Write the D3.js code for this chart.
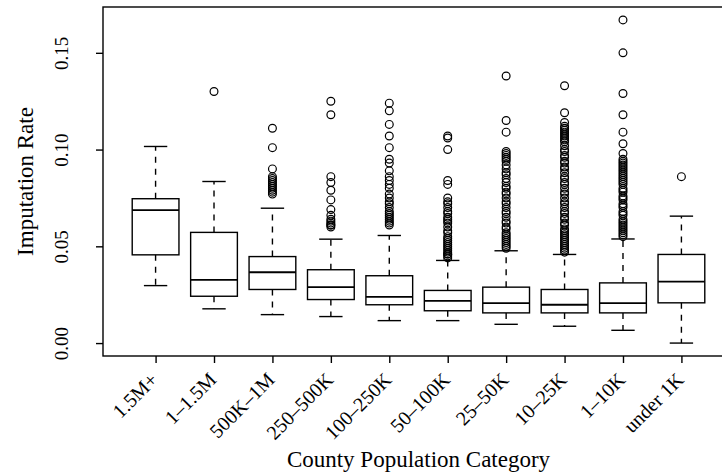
<!DOCTYPE html>
<html>
<head>
<meta charset="utf-8">
<script src="https://cdn.jsdelivr.net/npm/d3@7"></script>
<style>
  body { margin: 0; background: #fff; }
  text { font-family: "Liberation Serif", "Times New Roman", serif; fill: #000; }
</style>
</head>
<body>
<div id="chart-area"></div>
<script>
const categories = ["1.5M+", "1–1.5M", "500K–1M", "250–500K", "100–250K", "50–100K", "25–50K", "10–25K", "1–10K", "under 1K"]
const whiskerLow = [0.0297, 0.0177, 0.0147, 0.0137, 0.0116, 0.0116, 0.0097, 0.0087, 0.0066, 0.0000]
const q1 = [0.0456, 0.0242, 0.0277, 0.0225, 0.0198, 0.0167, 0.0156, 0.0156, 0.0156, 0.0208]
const median = [0.0687, 0.0327, 0.0366, 0.0289, 0.0239, 0.0218, 0.0206, 0.0198, 0.0206, 0.0318]
const q3 = [0.0746, 0.0572, 0.0447, 0.0379, 0.0348, 0.0272, 0.0289, 0.0277, 0.0311, 0.0458]
const whiskerHigh = [0.1016, 0.0835, 0.0697, 0.0537, 0.0556, 0.0427, 0.0477, 0.0458, 0.0538, 0.0656]
const outliers = [
  [],
  [0.130],
  [0.111, 0.101, 0.090, 0.086, 0.085, 0.084, 0.083, 0.082, 0.081, 0.080, 0.079, 0.078, 0.077],
  [0.125, 0.118, 0.086, 0.083, 0.079, 0.074, 0.069, 0.066, 0.064, 0.063, 0.062, 0.061, 0.061, 0.060],
  [0.124, 0.120, 0.113, 0.107, 0.101, 0.095, 0.093, 0.089, 0.086, 0.084, 0.082, 0.080, 0.077, 0.075,
   0.073, 0.072, 0.070, 0.068, 0.067, 0.066, 0.065, 0.064, 0.063, 0.062, 0.061],
  [0.107, 0.106, 0.100, 0.084, 0.082, 0.075, 0.073, 0.072, 0.070, 0.068, 0.067, 0.065, 0.064, 0.063,
   0.062, 0.060, 0.058, 0.057, 0.055, 0.054, 0.053, 0.052, 0.051, 0.050, 0.049, 0.048, 0.047, 0.046,
   0.046, 0.045, 0.044],
  [0.138, 0.115, 0.109, 0.099, 0.098, 0.097, 0.096, 0.095, 0.094, 0.092, 0.090, 0.088, 0.087, 0.085,
   0.083, 0.081, 0.080, 0.078, 0.077, 0.075, 0.073, 0.072, 0.070, 0.068, 0.067, 0.065, 0.063, 0.062,
   0.060, 0.059, 0.057, 0.056, 0.055, 0.054, 0.053, 0.052, 0.051, 0.050, 0.049],
  [0.133, 0.119, 0.114, 0.112, 0.111, 0.110, 0.109, 0.108, 0.107, 0.106, 0.105, 0.104, 0.102, 0.100,
   0.099, 0.097, 0.096, 0.094, 0.093, 0.091, 0.090, 0.088, 0.086, 0.085, 0.083, 0.082, 0.080, 0.078,
   0.077, 0.075, 0.073, 0.072, 0.070, 0.068, 0.067, 0.065, 0.064, 0.062, 0.061, 0.059, 0.058, 0.057,
   0.056, 0.055, 0.054, 0.053, 0.052, 0.051, 0.050, 0.049, 0.048, 0.047],
  [0.167, 0.150, 0.129, 0.118, 0.109, 0.103, 0.098, 0.095, 0.094, 0.093, 0.092, 0.091, 0.090, 0.089,
   0.088, 0.087, 0.086, 0.085, 0.084, 0.083, 0.082, 0.080, 0.079, 0.078, 0.076, 0.075, 0.074, 0.072,
   0.071, 0.070, 0.068, 0.067, 0.066, 0.064, 0.063, 0.062, 0.061, 0.060, 0.059, 0.058, 0.057, 0.056,
   0.055],
  [0.086]
]
const yTicks = [0, 0.05, 0.10, 0.15]

const WIDTH = 722, HEIGHT = 474
const PLOT = { LEFT: 103, RIGHT: 734, TOP: 7, BOTTOM: 356 }
const LW = 1.4

const svg = d3.select("#chart-area").append("svg")
  .attr("width", WIDTH)
  .attr("height", HEIGHT)

const x = d3.scalePoint()
  .domain(categories)
  .range([PLOT.LEFT, PLOT.RIGHT])
  .padding(0.9)

const y = d3.scaleLinear()
  .domain([-0.00668, 0.17368])
  .range([PLOT.BOTTOM, PLOT.TOP])

const step = x.step()
const boxW = step * 0.8
const capW = boxW * 0.5

const data = categories.map((c, i) => ({
  cat: c, lo: whiskerLow[i], q1: q1[i], med: median[i], q3: q3[i], hi: whiskerHigh[i], out: outliers[i]
}))

// Y axis
const yAxis = svg.append("g")
  .attr("transform", `translate(${PLOT.LEFT},0)`)
  .call(d3.axisLeft(y).tickValues(yTicks).tickSize(7).tickFormat(d3.format(".2f")))
yAxis.select(".domain").remove()
yAxis.selectAll("line").attr("stroke", "#000").attr("stroke-width", LW)
yAxis.selectAll("text")
  .attr("font-size", "19px")
  .attr("text-anchor", "middle")
  .attr("x", 0).attr("y", 0).attr("dy", 0)
  .attr("transform", `translate(${68 - PLOT.LEFT},0) rotate(-90)`)

// X axis
const xAxis = svg.append("g")
  .attr("transform", `translate(0,${PLOT.BOTTOM})`)
  .call(d3.axisBottom(x).tickSize(7))
xAxis.select(".domain").remove()
xAxis.selectAll("line").attr("stroke", "#000").attr("stroke-width", LW)
xAxis.selectAll("text")
  .attr("font-size", "20px")
  .attr("text-anchor", "end")
  .attr("x", 0).attr("y", 0).attr("dy", 0)
  .attr("transform", "translate(3,25) rotate(-45)")

// boxes
const g = svg.append("g")
  .attr("fill", "none")
  .attr("stroke", "#000")
  .attr("stroke-width", LW)

const boxes = g.selectAll("g.box").data(data).enter().append("g").attr("class", "box")

boxes.append("line")
  .attr("x1", d => x(d.cat)).attr("x2", d => x(d.cat))
  .attr("y1", d => y(d.q3)).attr("y2", d => y(d.hi))
  .attr("stroke-dasharray", "6,6")
boxes.append("line")
  .attr("x1", d => x(d.cat)).attr("x2", d => x(d.cat))
  .attr("y1", d => y(d.q1)).attr("y2", d => y(d.lo))
  .attr("stroke-dasharray", "6,6")
boxes.append("line")
  .attr("x1", d => x(d.cat) - capW / 2).attr("x2", d => x(d.cat) + capW / 2)
  .attr("y1", d => y(d.hi)).attr("y2", d => y(d.hi))
boxes.append("line")
  .attr("x1", d => x(d.cat) - capW / 2).attr("x2", d => x(d.cat) + capW / 2)
  .attr("y1", d => y(d.lo)).attr("y2", d => y(d.lo))
boxes.append("rect")
  .attr("x", d => x(d.cat) - boxW / 2)
  .attr("width", boxW)
  .attr("y", d => y(d.q3))
  .attr("height", d => y(d.q1) - y(d.q3))
boxes.append("line")
  .attr("x1", d => x(d.cat) - boxW / 2).attr("x2", d => x(d.cat) + boxW / 2)
  .attr("y1", d => y(d.med)).attr("y2", d => y(d.med))
  .attr("stroke-width", LW * 1.3)

boxes.selectAll("circle")
  .data(d => d.out.map(v => ({ cat: d.cat, v })))
  .enter().append("circle")
  .attr("cx", d => x(d.cat))
  .attr("cy", d => y(d.v))
  .attr("r", 3.9)
  .attr("stroke-width", 1.2)

// plot frame
svg.append("rect")
  .attr("x", PLOT.LEFT).attr("y", PLOT.TOP)
  .attr("width", PLOT.RIGHT - PLOT.LEFT)
  .attr("height", PLOT.BOTTOM - PLOT.TOP)
  .attr("fill", "none").attr("stroke", "#000").attr("stroke-width", LW)

// axis titles
svg.append("text")
  .attr("x", (PLOT.LEFT + PLOT.RIGHT) / 2)
  .attr("y", 467)
  .attr("font-size", "23px")
  .attr("text-anchor", "middle")
  .text("County Population Category")

svg.append("text")
  .attr("transform", `translate(33,${(PLOT.TOP + PLOT.BOTTOM) / 2}) rotate(-90)`)
  .attr("font-size", "23px")
  .attr("text-anchor", "middle")
  .text("Imputation Rate")
</script>
</body>
</html>
